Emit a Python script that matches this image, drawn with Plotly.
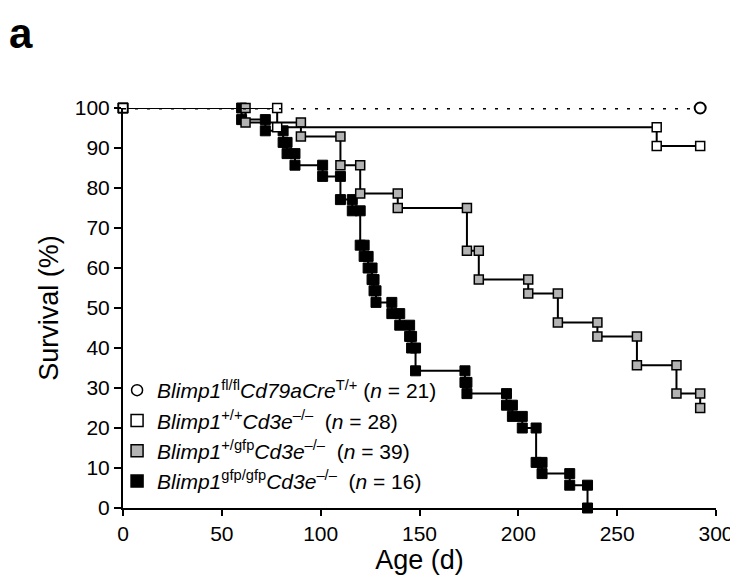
import plotly.graph_objects as go

# ---- data (vertices of the Kaplan-Meier step curves) ----
cre_x = [0, 292]
cre_y = [100, 100]

wt_x = [0, 78, 78, 270, 270, 292]
wt_y = [100, 100, 95.2, 95.2, 90.5, 90.5]

het_x = [0, 62, 62, 90, 90, 110, 110, 120, 120, 139, 139, 174, 174, 180, 180,
         205, 205, 220, 220, 240, 240, 260, 260, 280, 280, 292, 292]
het_y = [100, 100, 96.4, 96.4, 92.9, 92.9, 85.7, 85.7, 78.6, 78.6, 75, 75, 64.3, 64.3, 57.1,
         57.1, 53.6, 53.6, 46.4, 46.4, 42.9, 42.9, 35.7, 35.7, 28.6, 28.6, 25]

ko_x = [0, 60, 60, 72, 72, 81, 81, 83, 83, 87, 87, 101, 101, 110, 110, 116, 116, 120, 120,
        122, 122, 124, 124, 126, 126, 127, 127, 128, 128, 136, 136, 140, 140, 145, 145,
        146, 146, 148, 148, 173, 173, 174, 174, 194, 194, 197, 197, 202, 202, 209, 209,
        212, 212, 226, 226, 235, 235]
ko_y = [100, 100, 97.1, 97.1, 94.3, 94.3, 91.4, 91.4, 88.6, 88.6, 85.7, 85.7, 82.9, 82.9, 77.1,
        77.1, 74.3, 74.3, 65.7, 65.7, 62.9, 62.9, 60, 60, 57.1, 57.1, 54.3, 54.3, 51.4, 51.4,
        48.6, 48.6, 45.7, 45.7, 42.9, 42.9, 40, 40, 34.3, 34.3, 31.4, 31.4, 28.6, 28.6, 25.7,
        25.7, 22.9, 22.9, 20, 20, 11.4, 11.4, 8.6, 8.6, 5.7, 5.7, 0]

legend_names = [
    "<i>Blimp1</i><sup>fl/fl</sup><i>Cd79aCre</i><sup>T/+</sup> (<i>n</i> = 21)",
    "<i>Blimp1</i><sup>+/+</sup><i>Cd3e</i><sup>\u2013/\u2013</sup>\u00a0\u00a0(<i>n</i> = 28)",
    "<i>Blimp1</i><sup>+/gfp</sup><i>Cd3e</i><sup>\u2013/\u2013</sup>\u00a0\u00a0(<i>n</i> = 39)",
    "<i>Blimp1</i><sup>gfp/gfp</sup><i>Cd3e</i><sup>\u2013/\u2013</sup>\u00a0\u00a0(<i>n</i> = 16)",
]

x_ticks = [0, 50, 100, 150, 200, 250, 300]
y_ticks = [0, 10, 20, 30, 40, 50, 60, 70, 80, 90, 100]

FONT = "Liberation Sans, Arial, sans-serif"
GRAY = "#b3b3b3"

fig = go.Figure()

# black (gfp/gfp)
fig.add_trace(go.Scatter(
    x=ko_x, y=ko_y, mode="lines+markers", showlegend=False, cliponaxis=False,
    line=dict(color="black", width=2),
    marker=dict(symbol="square", size=10, color="black", line=dict(color="black", width=1))))
# gray (+/gfp)
fig.add_trace(go.Scatter(
    x=het_x, y=het_y, mode="lines+markers", showlegend=False, cliponaxis=False,
    line=dict(color="black", width=2),
    marker=dict(symbol="square", size=9, color=GRAY, line=dict(color="black", width=1.5))))
# white (+/+)
fig.add_trace(go.Scatter(
    x=wt_x, y=wt_y, mode="lines+markers", showlegend=False, cliponaxis=False,
    line=dict(color="black", width=2),
    marker=dict(symbol="square", size=9, color="white", line=dict(color="black", width=1.5))))
# dotted Cd79aCre
fig.add_trace(go.Scatter(
    x=cre_x, y=cre_y, mode="lines+markers", showlegend=False, cliponaxis=False,
    line=dict(color="black", width=3, dash="3px,9px"),
    marker=dict(symbol="circle", size=11, color="white", opacity=[0, 1],
                line=dict(color="black", width=2))))

# legend-only entries
leg_styles = [
    dict(symbol="circle", size=11, color="white", line=dict(color="black", width=1.5)),
    dict(symbol="square", size=12, color="white", line=dict(color="black", width=1.5)),
    dict(symbol="square", size=12, color=GRAY, line=dict(color="black", width=1.5)),
    dict(symbol="square", size=12, color="black", line=dict(color="black", width=1.5)),
]
for i, (name, ms) in enumerate(zip(legend_names, leg_styles)):
    fig.add_trace(go.Scatter(x=[None], y=[None], mode="markers", name=name,
                             legendgroup=f"g{i}", marker=ms))

fig.update_layout(
    width=738, height=580,
    margin=dict(l=115, r=23, t=100, b=80),
    paper_bgcolor="white", plot_bgcolor="white",
    font=dict(family=FONT, size=21, color="black"),
    showlegend=True,
    legend=dict(x=-0.01, y=0.345, xanchor="left", yanchor="top",
                bgcolor="rgba(0,0,0,0)", font=dict(size=21),
                traceorder="grouped", tracegroupgap=0, itemwidth=30),
    xaxis=dict(range=[0, 300], tickvals=x_ticks, showgrid=False, zeroline=False,
               showline=True, linecolor="black", linewidth=2,
               ticks="outside", ticklen=6, tickwidth=2, tickcolor="black",
               title=dict(text="Age (d)", font=dict(size=27), standoff=6)),
    yaxis=dict(range=[0, 100], tickvals=y_ticks, showgrid=False, zeroline=False,
               showline=True, linecolor="black", linewidth=2,
               ticks="outside", ticklen=7, tickwidth=2, tickcolor="black",
               title=dict(text="Survival (%)", font=dict(size=27), standoff=8)),
    annotations=[dict(text="<b>a</b>", xref="paper", yref="paper",
                      x=-0.195, y=1.25, xanchor="left", yanchor="top",
                      showarrow=False, font=dict(size=42, family=FONT))],
)

fig.write_html("out.html")
